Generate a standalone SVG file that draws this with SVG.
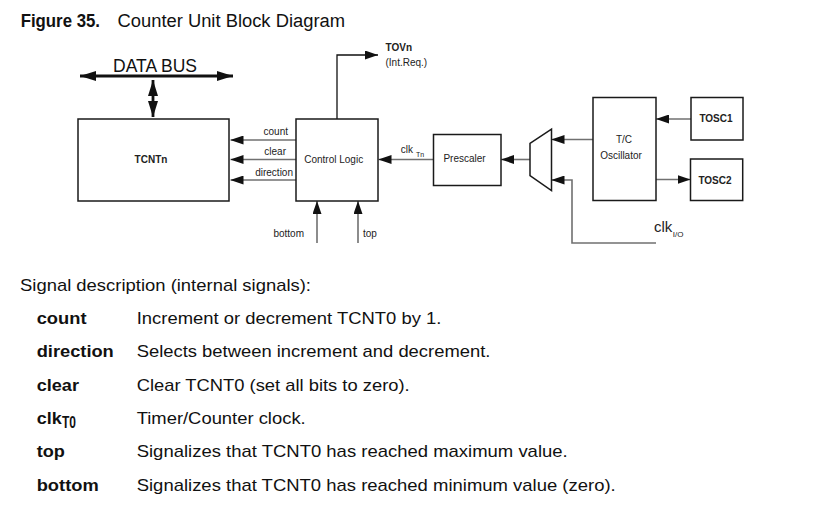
<svg xmlns="http://www.w3.org/2000/svg" width="830" height="511" viewBox="0 0 830 511">
  <style>
    .box { fill: #ffffff; stroke: #1a1a1a; stroke-width: 1.5; }
    .wire { fill: none; stroke: #707070; stroke-width: 1.6; marker-end: url(#ah); }
    .wk { fill: none; stroke: #111111; stroke-width: 1.3; }
    .bus { fill: none; stroke: #111111; stroke-width: 2.8; }
    .lbl { font-family: "Liberation Sans", Arial, sans-serif; font-size: 10px; fill: #222222; }
    .lblb { font-family: "Liberation Sans", Arial, sans-serif; font-size: 10px; font-weight: bold; fill: #222222; }
    .body { font-family: "Liberation Sans", Arial, sans-serif; font-size: 17px; fill: #111111; }
    .bodyb { font-family: "Liberation Sans", Arial, sans-serif; font-size: 17px; font-weight: bold; fill: #111111; }
  </style>
  <defs>
    <marker id="ah" markerUnits="userSpaceOnUse" markerWidth="13" markerHeight="9" refX="13" refY="4.5" orient="auto">
      <path d="M0,0 L13,4.5 L0,9 z" fill="#111111"/>
    </marker>
    <marker id="big" markerUnits="userSpaceOnUse" markerWidth="16" markerHeight="10" refX="16" refY="5" orient="auto-start-reverse">
      <path d="M0,0 L16,5 L0,10 z" fill="#111111"/>
    </marker>
  </defs>

  <!-- Title -->
  <text x="20.7" y="27" font-family="Liberation Sans, Arial, sans-serif" font-size="18" font-weight="bold" fill="#111" textLength="79.3" lengthAdjust="spacingAndGlyphs">Figure 35.</text>
  <text x="117.5" y="27" font-family="Liberation Sans, Arial, sans-serif" font-size="18" fill="#111" textLength="227.5" lengthAdjust="spacingAndGlyphs">Counter Unit Block Diagram</text>

  <!-- Connectors -->
  <g id="connectors">
    <path class="bus" d="M80,76 H233" marker-start="url(#big)" marker-end="url(#big)"/>
    <path class="bus" d="M153,80 V117" marker-start="url(#big)" marker-end="url(#big)"/>
    <path class="wire" d="M296,140 H230.5"/>
    <path class="wire" d="M296,159.5 H230.5"/>
    <path class="wire" d="M296,180 H230.5"/>
    <path class="wire" d="M317,243 V201"/>
    <path class="wire" d="M358,243 V201"/>
    <path class="wk" d="M337,119 V55 H378" marker-end="url(#ah)"/>
    <path class="wire" d="M433.5,159.5 H378.5"/>
    <path class="wire" d="M530,159.5 H501"/>
    <path class="wire" d="M593,139.5 H551.5"/>
    <path class="wire" d="M656,243 H572 V180 H551.5"/>
    <path class="wire" d="M691,119 H656"/>
    <path class="wire" d="M656,179.5 H690.5"/>
  </g>

  <!-- Connector labels -->
  <text x="155" y="72" text-anchor="middle" font-family="Liberation Sans, Arial, sans-serif" font-size="18" fill="#111" textLength="84" lengthAdjust="spacingAndGlyphs">DATA BUS</text>
  <text class="lbl" x="288" y="135" text-anchor="end">count</text>
  <text class="lbl" x="286" y="155" text-anchor="end">clear</text>
  <text class="lbl" x="293" y="176" text-anchor="end">direction</text>
  <text class="lbl" x="304" y="236.5" text-anchor="end">bottom</text>
  <text class="lbl" x="363" y="236.5">top</text>
  <text class="lblb" x="385.5" y="51" font-size="9.5">TOVn</text>
  <text class="lbl" x="385.5" y="66" font-size="9.5">(Int.Req.)</text>
  <text class="lbl" x="400.7" y="152.7">clk<tspan x="416" y="157" font-size="7">Tn</tspan></text>
  <text x="654" y="232" font-family="Liberation Sans, Arial, sans-serif" font-size="15" fill="#222">clk<tspan x="672.7" y="237" font-size="8">I/O</tspan></text>

  <!-- Nodes -->
  <g id="tcntn">
    <rect class="box" x="78" y="119" width="151" height="82"/>
    <text class="lblb" x="151" y="163" text-anchor="middle" font-size="10.5">TCNTn</text>
  </g>
  <g id="control-logic">
    <rect class="box" x="296" y="119" width="82" height="82"/>
    <text class="lbl" x="333.7" y="162.7" text-anchor="middle">Control Logic</text>
  </g>
  <g id="prescaler">
    <rect class="box" x="433.5" y="134.5" width="67.5" height="51"/>
    <text class="lbl" x="464.5" y="162.3" text-anchor="middle">Prescaler</text>
  </g>
  <g id="mux">
    <polygon class="box" points="530,143.3 551.5,129.2 551.5,190.5 530,175.5"/>
  </g>
  <g id="tc-oscillator">
    <rect class="box" x="593" y="97.5" width="63" height="103"/>
    <text class="lbl" x="624" y="143.3" text-anchor="middle">T/C</text>
    <text class="lbl" x="621" y="159.3" text-anchor="middle">Oscillator</text>
  </g>
  <g id="tosc1">
    <rect class="box" x="691" y="97.5" width="52" height="42.5"/>
    <text class="lblb" x="716" y="121.8" text-anchor="middle">TOSC1</text>
  </g>
  <g id="tosc2">
    <rect class="box" x="690.5" y="159" width="52.2" height="41.5"/>
    <text class="lblb" x="715" y="183.5" text-anchor="middle">TOSC2</text>
  </g>

  <!-- Signal description -->
  <text class="body" x="20" y="291" textLength="291" lengthAdjust="spacingAndGlyphs">Signal description (internal signals):</text>

  <text class="bodyb" x="36.7" y="324" textLength="49.8" lengthAdjust="spacingAndGlyphs">count</text>
  <text class="body" x="136.7" y="324" textLength="304.7" lengthAdjust="spacingAndGlyphs">Increment or decrement TCNT0 by 1.</text>

  <text class="bodyb" x="36.7" y="357.3" textLength="77.1" lengthAdjust="spacingAndGlyphs">direction</text>
  <text class="body" x="136.7" y="357.3" textLength="353.7" lengthAdjust="spacingAndGlyphs">Selects between increment and decrement.</text>

  <text class="bodyb" x="36.7" y="390.6" textLength="42.3" lengthAdjust="spacingAndGlyphs">clear</text>
  <text class="body" x="136.7" y="390.6" textLength="273" lengthAdjust="spacingAndGlyphs">Clear TCNT0 (set all bits to zero).</text>

  <text class="bodyb" x="36.7" y="424" textLength="25" lengthAdjust="spacingAndGlyphs">clk</text>
  <text class="bodyb" x="62" y="428.3" font-size="10.5" textLength="14" lengthAdjust="spacingAndGlyphs">T0</text>
  <text class="body" x="136.7" y="424" textLength="169" lengthAdjust="spacingAndGlyphs">Timer/Counter clock.</text>

  <text class="bodyb" x="36.7" y="457.3" textLength="28.2" lengthAdjust="spacingAndGlyphs">top</text>
  <text class="body" x="136.7" y="457.3" textLength="431" lengthAdjust="spacingAndGlyphs">Signalizes that TCNT0 has reached maximum value.</text>

  <text class="bodyb" x="36.7" y="490.6" textLength="62" lengthAdjust="spacingAndGlyphs">bottom</text>
  <text class="body" x="136.7" y="490.6" textLength="479" lengthAdjust="spacingAndGlyphs">Signalizes that TCNT0 has reached minimum value (zero).</text>
</svg>
